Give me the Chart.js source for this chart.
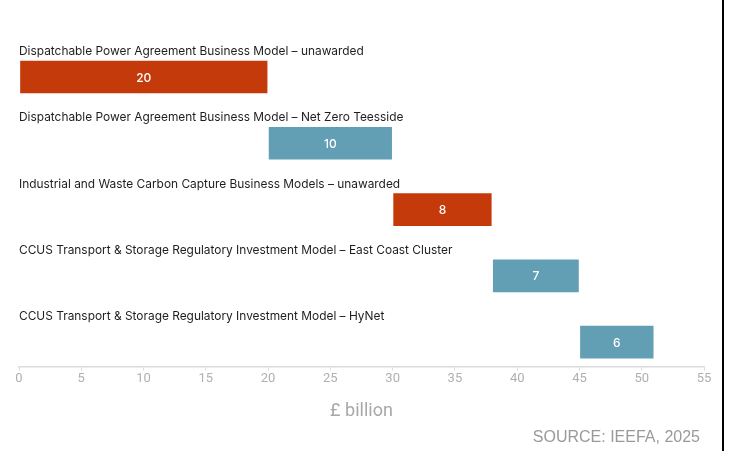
<!DOCTYPE html>
<html>
<head>
<meta charset="utf-8">
<script src="https://cdn.jsdelivr.net/npm/chart.js@4"></script>
<style>
  html, body { margin: 0; padding: 0; background: #fff; }
  #wrap { position: relative; width: 730px; height: 451px; }
  #edge { position: absolute; left: 722px; top: 0; width: 2px; height: 451px; background: #000; }
</style>
</head>
<body>
<div id="wrap">
  <canvas id="funding-chart" width="730" height="451"></canvas>
  <div id="edge"></div>
</div>
<script>
const categories = [
  'Dispatchable Power Agreement Business Model \u2013 unawarded',
  'Dispatchable Power Agreement Business Model \u2013 Net Zero Teesside',
  'Industrial and Waste Carbon Capture Business Models \u2013 unawarded',
  'CCUS Transport & Storage Regulatory Investment Model \u2013 East Coast Cluster',
  'CCUS Transport & Storage Regulatory Investment Model \u2013 HyNet'
];
const amounts = [20, 10, 8, 7, 6];
const xTicks = [0, 5, 10, 15, 20, 25, 30, 35, 40, 45, 50, 55];
const sourceNote = 'SOURCE: IEEFA, 2025';

const RED = '#c43a0a';
const BLUE = '#629fb5';

// waterfall: each bar starts where the previous one ended
let running = 0;
const bars = amounts.map((v, i) => {
  const start = running;
  running += v;
  return { x: [start, running], y: i };
});

const barLabels = {
  id: 'barLabels',
  afterDatasetsDraw(chart) {
    const { ctx, chartArea, scales } = chart;
    const meta = chart.getDatasetMeta(0);
    ctx.save();
    ctx.textBaseline = 'middle';
    categories.forEach((name, i) => {
      const y = scales.y.getPixelForValue(i);
      ctx.fillStyle = '#1e1e1e';
      ctx.font = '11.9px Inter';
      ctx.textAlign = 'left';
      ctx.fillText(name, chartArea.left, y - 25.5);

      const el = meta.data[i];
      ctx.fillStyle = '#fff';
      ctx.font = '500 12px Inter';
      ctx.textAlign = 'center';
      ctx.fillText(String(amounts[i]), (el.x + el.base) / 2, y + 1);
    });

    // source note, bottom right
    ctx.fillStyle = '#9a9a9a';
    ctx.font = '16px "Liberation Sans"';
    ctx.textAlign = 'right';
    ctx.fillText(sourceNote, chartArea.right - 4, 438);
    ctx.restore();
  }
};

new Chart(document.getElementById('funding-chart').getContext('2d'), {
  type: 'bar',
  data: {
    datasets: [{
      data: bars,
      backgroundColor: ctx => categories[ctx.dataIndex].endsWith('unawarded') ? RED : BLUE,
      borderColor: 'rgba(255,255,255,0.35)',
      borderWidth: 1,
      borderSkipped: false,
      barThickness: 34
    }]
  },
  options: {
    indexAxis: 'y',
    responsive: false,
    animation: false,
    layout: { padding: { left: 19, right: 26, top: 30, bottom: 18.3 } },
    plugins: {
      legend: { display: false },
      tooltip: { enabled: false }
    },
    scales: {
      y: {
        type: 'linear',
        reverse: true,
        offset: false,
        min: -0.709,
        max: 4.367,
        display: false
      },
      x: {
        min: 0,
        max: 55,
        afterBuildTicks: scale => { scale.ticks = xTicks.map(v => ({ value: v })); },
        grid: { drawOnChartArea: false, drawTicks: true, tickLength: 4, color: '#dcdcdc' },
        border: { color: '#dcdcdc', width: 1.5 },
        ticks: {
          color: '#b0b0b0',
          font: { family: 'Roboto', size: 13 },
          padding: 0
        },
        title: {
          display: true,
          text: '\u00a3 billion',
          color: '#a8a8a8',
          font: { family: 'Roboto', size: 18 },
          padding: { top: 15, bottom: 10 }
        }
      }
    }
  },
  plugins: [barLabels]
});
</script>
</body>
</html>
